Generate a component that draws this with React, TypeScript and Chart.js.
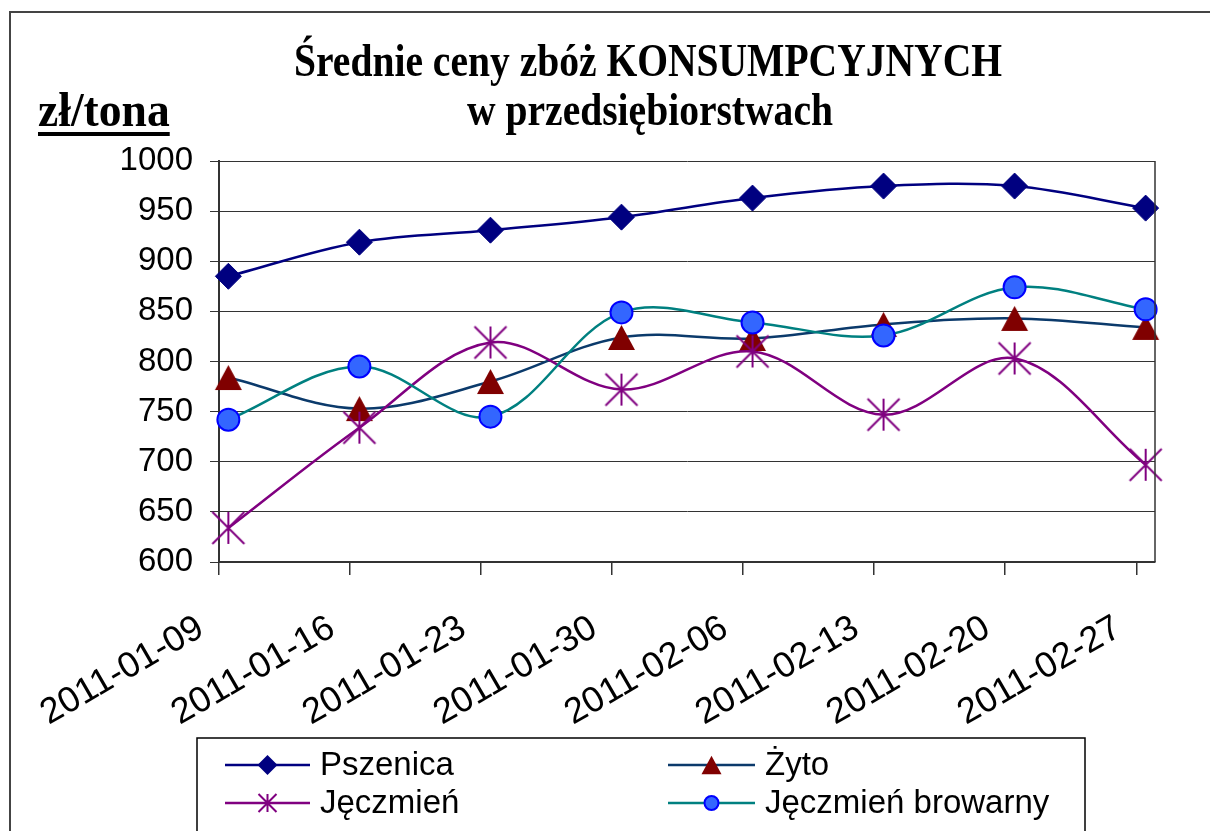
import React, { useEffect, useRef } from "react";
import { Chart, registerables } from "chart.js";

Chart.register(...registerables);

// ---- data ----
const dates = [
  "2011-01-09",
  "2011-01-16",
  "2011-01-23",
  "2011-01-30",
  "2011-02-06",
  "2011-02-13",
  "2011-02-20",
  "2011-02-27",
];
const pszenica = [885, 919, 931, 944, 963, 975, 975, 953];
const zyto = [784, 753, 780, 824, 823, 837, 843, 834];
const jeczmien = [634, 734, 819, 772, 810, 747, 803, 697];
const jeczmienBrowarny = [742, 795, 745, 849, 839, 826, 874, 852];
const seriesNames = ["Pszenica", "Żyto", "Jęczmień", "Jęczmień browarny"];
const titleLines = ["Średnie ceny zbóż KONSUMPCYJNYCH", "w przedsiębiorstwach"];
const unitLabel = "zł/tona";
const yMin = 600;
const yMax = 1000;
const yStep = 50;

const DAY_MS = 86400000;
const dayOf = (d: string) =>
  Math.round((Date.parse(d) - Date.parse(dates[0])) / DAY_MS);
// date axis: each date owns a one-day slot, value plotted in its middle
const SLOT_MID = 0.5;

type Kind = "diamond" | "triangle" | "star" | "circle";

const COLORS = {
  pszenica: "#000080",
  zytoLine: "#0b3a6b",
  zytoMarker: "#800000",
  jeczmien: "#800080",
  browarnyLine: "#008080",
  browarnyFill: "#3366ff",
  browarnyBorder: "#0000ff",
  grid: "#333333",
};

function drawMarker(
  ctx: CanvasRenderingContext2D,
  kind: Kind,
  x: number,
  y: number,
  s: number,
  fill: string,
  stroke: string
) {
  ctx.save();
  ctx.beginPath();
  if (kind === "diamond") {
    ctx.moveTo(x, y - s);
    ctx.lineTo(x + s, y);
    ctx.lineTo(x, y + s);
    ctx.lineTo(x - s, y);
    ctx.closePath();
    ctx.fillStyle = fill;
    ctx.fill();
  } else if (kind === "triangle") {
    const h = s * 1.85;
    ctx.moveTo(x, y - h / 2);
    ctx.lineTo(x + s, y + h / 2);
    ctx.lineTo(x - s, y + h / 2);
    ctx.closePath();
    ctx.fillStyle = fill;
    ctx.fill();
  } else if (kind === "star") {
    ctx.moveTo(x - s, y - s);
    ctx.lineTo(x + s, y + s);
    ctx.moveTo(x + s, y - s);
    ctx.lineTo(x - s, y + s);
    ctx.moveTo(x, y - s);
    ctx.lineTo(x, y + s);
    ctx.strokeStyle = stroke;
    ctx.lineWidth = 2;
    ctx.stroke();
  } else {
    ctx.arc(x, y, s, 0, Math.PI * 2);
    ctx.fillStyle = fill;
    ctx.fill();
    ctx.strokeStyle = stroke;
    ctx.lineWidth = 2;
    ctx.stroke();
  }
  ctx.restore();
}

function makeMarkerCanvas(kind: Kind, s: number, fill: string, stroke: string) {
  const c = document.createElement("canvas");
  const size = Math.ceil(2 * s + 4);
  c.width = size;
  c.height = size;
  const cx = c.getContext("2d") as CanvasRenderingContext2D;
  drawMarker(cx, kind, size / 2, size / 2, s, fill, stroke);
  return c;
}

const legendSpec: { kind: Kind; line: string; fill: string; stroke: string; s: number }[] = [
  { kind: "diamond", line: COLORS.pszenica, fill: COLORS.pszenica, stroke: COLORS.pszenica, s: 10 },
  { kind: "triangle", line: COLORS.zytoLine, fill: COLORS.zytoMarker, stroke: COLORS.zytoMarker, s: 10 },
  { kind: "star", line: COLORS.jeczmien, fill: COLORS.jeczmien, stroke: COLORS.jeczmien, s: 9 },
  { kind: "circle", line: COLORS.browarnyLine, fill: COLORS.browarnyFill, stroke: COLORS.browarnyBorder, s: 7 },
];

function drawCondensed(
  ctx: CanvasRenderingContext2D,
  text: string,
  x: number,
  y: number,
  sx: number
) {
  ctx.save();
  ctx.translate(x, y);
  ctx.scale(sx, 1);
  ctx.fillText(text, 0, 0);
  ctx.restore();
}

const decorPlugin = {
  id: "decor",
  afterDraw(chart: any) {
    const ctx: CanvasRenderingContext2D = chart.ctx;
    const { right, top, bottom } = chart.chartArea;
    ctx.save();

    // plot right border
    ctx.strokeStyle = COLORS.grid;
    ctx.lineWidth = 1.5;
    ctx.beginPath();
    ctx.moveTo(right, top);
    ctx.lineTo(right, bottom);
    ctx.stroke();

    // outer frame (left and top edges visible)
    ctx.strokeStyle = "#444";
    ctx.lineWidth = 2;
    ctx.beginPath();
    ctx.moveTo(10, chart.height + 5);
    ctx.lineTo(10, 12);
    ctx.lineTo(chart.width + 5, 12);
    ctx.stroke();

    // title (bold serif, slightly condensed)
    ctx.fillStyle = "#000";
    ctx.textAlign = "center";
    ctx.textBaseline = "alphabetic";
    ctx.font = 'bold 46px "Liberation Serif", "Times New Roman", serif';
    drawCondensed(ctx, titleLines[0], 648, 76, 0.86);
    drawCondensed(ctx, titleLines[1], 650, 125, 0.86);

    // unit label, underlined
    ctx.textAlign = "left";
    ctx.font = 'bold 48px "Liberation Serif", "Times New Roman", serif';
    const sx = 0.95;
    drawCondensed(ctx, unitLabel, 38, 126, sx);
    const uw = ctx.measureText(unitLabel).width * sx;
    ctx.fillRect(38, 132, uw, 4);

    // legend box
    ctx.strokeStyle = "#000";
    ctx.lineWidth = 1.5;
    ctx.strokeRect(197, 738, 888, chart.height);

    const cols = [
      { x0: 225, x1: 310, tx: 320 },
      { x0: 668, x1: 755, tx: 765 },
    ];
    const rows = [765, 803];
    ctx.font = '33px "Liberation Sans", Arial, sans-serif';
    ctx.textBaseline = "middle";
    seriesNames.forEach((name, i) => {
      const col = cols[i % 2];
      const y = rows[Math.floor(i / 2)];
      const spec = legendSpec[i];
      ctx.strokeStyle = spec.line;
      ctx.lineWidth = 2.5;
      ctx.beginPath();
      ctx.moveTo(col.x0, y);
      ctx.lineTo(col.x1, y);
      ctx.stroke();
      drawMarker(ctx, spec.kind, (col.x0 + col.x1) / 2, y, spec.s, spec.fill, spec.stroke);
      ctx.fillStyle = "#000";
      ctx.fillText(name, col.tx, y + 1);
    });

    ctx.restore();
  },
};

export default function App() {
  const ref = useRef<HTMLCanvasElement | null>(null);

  useEffect(() => {
    if (!ref.current) return;
    const toPoints = (vals: number[]) =>
      dates.map((d, i) => ({ x: dayOf(d) + SLOT_MID, y: vals[i] }));

    const triangleImg = makeMarkerCanvas("triangle", 13.5, COLORS.zytoMarker, COLORS.zytoMarker);
    const starImg = makeMarkerCanvas("star", 16, COLORS.jeczmien, COLORS.jeczmien);

    const lastDay = dayOf(dates[dates.length - 1]);
    const sans = '"Liberation Sans", Arial, sans-serif';

    const chart = new Chart(ref.current, {
      type: "line",
      data: {
        datasets: [
          {
            label: seriesNames[0],
            data: toPoints(pszenica),
            borderColor: COLORS.pszenica,
            borderWidth: 2.5,
            tension: 0.35,
            pointStyle: "rectRot",
            pointRadius: 13,
            pointBackgroundColor: COLORS.pszenica,
            pointBorderColor: COLORS.pszenica,
            pointBorderWidth: 1,
            order: 4,
            clip: false,
          },
          {
            label: seriesNames[1],
            data: toPoints(zyto),
            borderColor: COLORS.zytoLine,
            borderWidth: 2.5,
            tension: 0.35,
            pointStyle: triangleImg,
            pointRadius: 14,
            order: 3,
            clip: false,
          },
          {
            label: seriesNames[2],
            data: toPoints(jeczmien),
            borderColor: COLORS.jeczmien,
            borderWidth: 2.5,
            tension: 0.35,
            pointStyle: starImg,
            pointRadius: 16,
            order: 2,
            clip: false,
          },
          {
            label: seriesNames[3],
            data: toPoints(jeczmienBrowarny),
            borderColor: COLORS.browarnyLine,
            borderWidth: 2.5,
            tension: 0.35,
            pointStyle: "circle",
            pointRadius: 11,
            pointBackgroundColor: COLORS.browarnyFill,
            pointBorderColor: COLORS.browarnyBorder,
            pointBorderWidth: 2,
            order: 1,
            clip: false,
          },
        ] as any,
      },
      options: {
        animation: false,
        responsive: false,
        maintainAspectRatio: false,
        events: [],
        layout: { padding: { left: 20, right: 55, top: 161, bottom: 0 } },
        plugins: {
          legend: { display: false },
          title: { display: false },
          tooltip: { enabled: false },
        },
        scales: {
          x: {
            type: "linear",
            min: 0,
            max: lastDay + 1,
            afterBuildTicks: (axis: any) => {
              axis.ticks = dates.map((d) => ({ value: dayOf(d) }));
            },
            afterFit: (axis: any) => {
              axis.height = 269;
            },
            grid: {
              drawOnChartArea: false,
              drawTicks: true,
              tickLength: 13,
              color: COLORS.grid,
              lineWidth: 1.5,
            },
            border: { display: true, color: COLORS.grid, width: 2 },
            ticks: {
              autoSkip: false,
              minRotation: 30,
              maxRotation: 30,
              color: "#000",
              padding: 32,
              labelOffset: -18,
              font: { family: sans, size: 36 },
              callback: (_v: any, i: number) => dates[i],
            },
          },
          y: {
            min: yMin,
            max: yMax,
            afterFit: (axis: any) => {
              axis.width = 199;
            },
            grid: {
              color: COLORS.grid,
              lineWidth: 1,
              tickLength: 9,
            },
            border: { display: true, color: COLORS.grid, width: 2 },
            ticks: {
              stepSize: yStep,
              color: "#000",
              padding: 17,
              font: { family: sans, size: 33 },
              callback: (v: any) => String(v),
            },
          },
        },
      } as any,
      plugins: [decorPlugin],
    });

    return () => chart.destroy();
  }, []);

  return (
    <div
      style={{
        position: "fixed",
        left: 0,
        top: 0,
        width: 1210,
        height: 831,
        background: "#fff",
        overflow: "hidden",
      }}
    >
      <canvas ref={ref} width={1210} height={831} style={{ display: "block" }} />
    </div>
  );
}
